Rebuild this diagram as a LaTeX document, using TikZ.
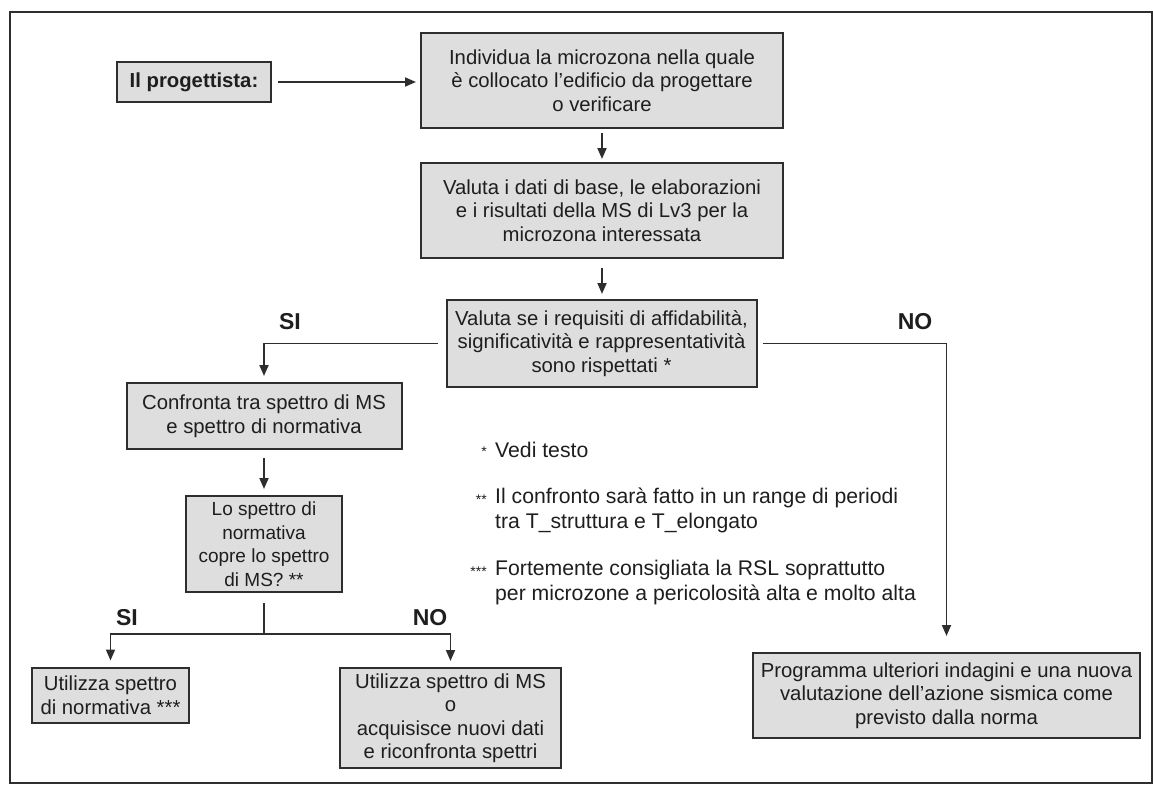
\documentclass[tikz,border=0pt]{standalone}
\usepackage{fontspec}
\setmainfont{Liberation Sans}
\usetikzlibrary{arrows.meta}
\definecolor{boxfill}{HTML}{DEDEDE}
\definecolor{edge}{HTML}{2E2E2E}
\definecolor{ink}{HTML}{1E1E1E}
\begin{document}
\begin{tikzpicture}[x=1pt,y=-1pt,
  box/.style={draw=edge, line width=2pt, fill=boxfill, align=center, inner sep=0pt, text=ink,
              font=\fontsize{20.3}{23.5}\selectfont},
  lbl/.style={font=\fontsize{23}{23}\selectfont\bfseries, inner sep=0pt, text=ink},
  arr/.style={-{Triangle[length=11pt,width=9pt]}, line width=1.8pt, draw=edge},
  ln/.style={line width=1.8pt, draw=edge},
  note/.style={anchor=west, align=left, inner sep=0pt, text=ink, font=\fontsize{21.2}{25}\selectfont},
  star/.style={anchor=east, inner sep=0pt, text=ink, font=\fontsize{14}{14}\selectfont}]
\useasboundingbox (0,0) rectangle (1153,784);
\draw[line width=2pt, edge] (10,12) rectangle (1152,783);

\node[box, minimum width=154pt, minimum height=40pt] (prog) at (194,82) {\bfseries Il progettista:};
\node[box, minimum width=362pt, minimum height=95pt] (b1) at (602,80.5)
  {Individua la microzona nella quale\\è collocato l’edificio da progettare\\o verificare};
\node[box, minimum width=362pt, minimum height=95pt] (b2) at (602,210.5)
  {Valuta i dati di base, le elaborazioni\\e i risultati della MS di Lv3 per la\\microzona interessata};
\node[box, minimum width=310pt, minimum height=87pt] (b3) at (601.5,343.5)
  {Valuta se i requisiti di affidabilità,\\significatività e rappresentatività\\sono rispettati *};
\node[box, minimum width=275pt, minimum height=66pt] (conf) at (264,416)
  {Confronta tra spettro di MS\\e spettro di normativa};
\node[box, minimum width=156pt, minimum height=96pt, font=\fontsize{19}{23.5}\selectfont] (q) at (264,544)
  {Lo spettro di\\normativa\\copre lo spettro\\di MS? **};
\node[box, minimum width=157pt, minimum height=55pt] (u1) at (110.5,695)
  {Utilizza spettro\\di normativa ***};
\node[box, minimum width=221pt, minimum height=100pt] (u2) at (450.5,718)
  {Utilizza spettro di MS\\o\\acquisisce nuovi dati\\e riconfronta spettri};
\node[box, minimum width=387pt, minimum height=85pt] (pr) at (946.5,695.5)
  {Programma ulteriori indagini e una nuova\\valutazione dell’azione sismica come\\previsto dalla norma};

\node[lbl] (si1) at (290,322) {SI};
\node[lbl] (no1) at (915,322) {NO};
\node[lbl] (si2) at (127,618) {SI};
\node[lbl] (no2) at (430,618) {NO};

\node[star] (s1) at (487,452) {*};
\node[note] (n1) at (495,450) {Vedi testo};
\node[star] (s2) at (487,500) {**};
\node[note] (n2) at (495,510.5) {Il confronto sarà fatto in un range di periodi\\tra T\_struttura e T\_elongato};
\node[star] (s3) at (487,572) {***};
\node[note] (n3) at (495,582.5) {Fortemente consigliata la RSL soprattutto\\per microzone a pericolosità alta e molto alta};

\draw[arr, shorten <=6pt, shorten >=4pt] (prog.east) -- (prog.east -| b1.west);
\draw[arr, shorten <=4pt, shorten >=3pt] (b1.south) -- (b2.north);
\draw[arr, shorten <=9pt, shorten >=5pt] (b2.south) -- (b2.south |- b3.north);
\draw[arr, shorten <=8pt, shorten >=6pt] (b3.west) -| (conf.north);
\draw[arr, shorten <=5pt, shorten >=16pt] (b3.east) -| (pr.north);
\draw[arr, shorten <=8pt, shorten >=6pt] (conf.south) -- (q.north);
\coordinate (j) at (264,634);
\draw[ln, shorten <=10pt] (q.south) -- (j);
\draw[arr, shorten >=6pt] (j) -| (u1.north);
\draw[arr, shorten >=6pt] (j) -| (u2.north);
\end{tikzpicture}
\end{document}
